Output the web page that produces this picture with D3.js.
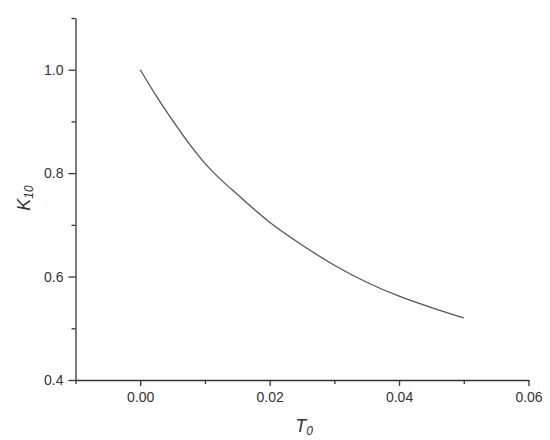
<html>
<head>
  <meta charset="UTF-8">
  <title>K10 vs T0</title>
  <style>
    body { margin: 0; padding: 0; background: #fff; }
    svg { display: block; font-family: "Liberation Sans", Arial, sans-serif; }
    .axis path, .axis line { stroke: #333; stroke-width: 1.3; }
    .axis text { fill: #333; font-size: 14px; }
  </style>
</head>
<body>
  <div id="chart"></div>
  <script src="https://cdnjs.cloudflare.com/ajax/libs/d3/7.8.4/d3.min.js"></script>
  <script>
    // values
    const t0 = [0, 0.0025, 0.005, 0.0075, 0.01, 0.0125, 0.015, 0.02, 0.025, 0.03, 0.035, 0.04, 0.045, 0.05];
    const k10 = [1.0, 0.949, 0.902, 0.858, 0.819, 0.787, 0.759, 0.705, 0.661, 0.622, 0.589, 0.562, 0.540, 0.520];
    const xTicks = [0, 0.02, 0.04, 0.06];
    const yTicks = [0.4, 0.6, 0.8, 1.0];
    const xMinor = [-0.01, 0.01, 0.03, 0.05];
    const yMinor = [0.5, 0.7, 0.9, 1.1];

    const width = 550;
    const height = 440;

    const svg = d3.select("#chart")
      .append("svg")
      .attr("width", width)
      .attr("height", height);

    const x = d3.scaleLinear().domain([-0.01, 0.06]).range([75.5, 528.5]);
    const y = d3.scaleLinear().domain([0.4, 1.1]).range([380, 18]);

    // minor ticks first, axes drawn on top
    svg.append("g")
      .attr("class", "axis")
      .attr("transform", "translate(0,380)")
      .call(d3.axisBottom(x).tickValues(xMinor).tickSize(4).tickFormat(""))
      .select(".domain").remove();

    svg.append("g")
      .attr("class", "axis")
      .attr("transform", "translate(75.5,0)")
      .call(d3.axisLeft(y).tickValues(yMinor).tickSize(4).tickFormat(""))
      .select(".domain").remove();

    svg.append("g")
      .attr("class", "axis")
      .attr("transform", "translate(0,380)")
      .call(d3.axisBottom(x).tickValues(xTicks).tickSize(6).tickSizeOuter(0).tickPadding(6).tickFormat(d3.format(".2f")));

    svg.append("g")
      .attr("class", "axis")
      .attr("transform", "translate(75.5,0)")
      .call(d3.axisLeft(y).tickValues(yTicks).tickSize(7).tickSizeOuter(0).tickPadding(5).tickFormat(d3.format(".1f")));

    // the curve
    const line = d3.line()
      .x((d, i) => x(t0[i]))
      .y(d => y(d))
      .curve(d3.curveMonotoneX);

    svg.append("path")
      .datum(k10)
      .attr("fill", "none")
      .attr("stroke", "#555")
      .attr("stroke-width", 1.3)
      .attr("d", line);

    // axis titles
    const xt = svg.append("text")
      .attr("x", 304)
      .attr("y", 432)
      .attr("text-anchor", "middle")
      .attr("fill", "#333")
      .attr("font-size", 18)
      .attr("font-style", "italic");
    xt.append("tspan").text("T");
    xt.append("tspan").attr("font-size", 12).attr("dy", 3).text("0");

    const yt = svg.append("text")
      .attr("transform", "translate(30,198) rotate(-90)")
      .attr("text-anchor", "middle")
      .attr("fill", "#333")
      .attr("font-size", 18)
      .attr("font-style", "italic");
    yt.append("tspan").text("K");
    yt.append("tspan").attr("font-size", 12).attr("dy", 3).text("10");
  </script>
</body>
</html>
